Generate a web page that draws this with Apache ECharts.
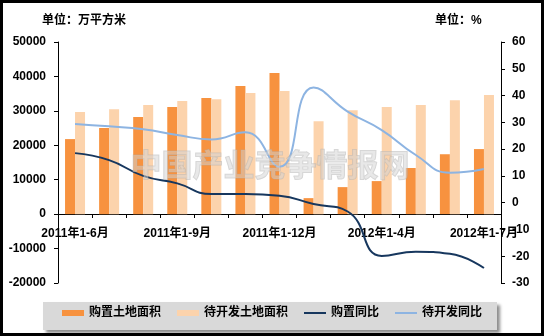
<!DOCTYPE html>
<html><head><meta charset="utf-8">
<script src="https://cdn.jsdelivr.net/npm/echarts@6/dist/echarts.min.js"></script>
<style>html,body{margin:0;padding:0;background:#fff}#c{width:544px;height:336px}</style>
</head><body><div id="c"></div>
<script>
var categories = ['2011年1-6月','2011年1-7月','2011年1-8月','2011年1-9月','2011年1-10月','2011年1-11月','2011年1-12月','2012年1-2月','2012年1-3月','2012年1-4月','2012年1-5月','2012年1-6月','2012年1-7月'];
var purchaseArea = [21800, 25000, 28200, 31100, 33700, 37200, 41000, 4650, 7850, 9600, 13400, 17400, 18900];
var pendingArea = [29650, 30500, 31700, 32850, 33400, 35200, 35750, 27000, 30200, 31100, 31700, 33100, 34600];
var purchaseYoY = [18.5, 15.9, 10.0, 7.2, 3.2, 3.2, 2.6, -0.5, -3.3, -19.9, -18.3, -19.1, -24.4];
var pendingYoY = [29.4, 28.5, 27.4, 25.3, 23.6, 26.3, 13.4, 43.0, 34.0, 27.1, 17.8, 11.2, 12.6];
var seriesNames = ['购置土地面积','待开发土地面积','购置同比','待开发同比'];

var FONT = '"Liberation Sans", Arial, "Noto Sans CJK SC", sans-serif';
var LINE_ICON = 'path://M0,0h0.01v0.01h-0.01zM0,2.1h22v1.8h-22zM21.99,5.99h0.01v0.01h-0.01z';
var chart = echarts.init(document.getElementById('c'), null, {renderer: 'canvas'});
var lbl = {color: '#000', fontWeight: 'bold', fontSize: 12, fontFamily: FONT};
chart.setOption({
  animation: false,
  backgroundColor: '#fff',
  grid: {left: 58, right: 43, top: 42, bottom: 53, containLabel: false},
  graphic: [
    {type: 'rect', z: 0, shape: {x: 43, y: 302, width: 454, height: 28},
     style: {fill: '#D9D9D9', shadowBlur: 3, shadowOffsetX: 3, shadowOffsetY: 3, shadowColor: 'rgba(0,0,0,0.45)'}},
    {type: 'text', z: 100, left: 42, top: 15, style: {text: '单位：万平方米', fill: '#000', font: 'bold 12px ' + FONT}},
    {type: 'text', z: 100, left: 435, top: 15, style: {text: '单位：%', fill: '#000', font: 'bold 12px ' + FONT}},
    {type: 'text', z: 50, left: 130, top: 148, style: {text: '中国产业竞争情报网', fill: 'rgba(210,210,210,0.5)', stroke: 'rgba(170,170,170,0.45)', lineWidth: 1, font: 'bold 31px "Noto Sans CJK SC", sans-serif'}},
    {type: 'rect', z: 200, shape: {x: 1.5, y: 1.5, width: 541, height: 333}, style: {fill: 'none', stroke: '#000', lineWidth: 3}}
  ],
  legend: {
    data: [
      {name: seriesNames[0], icon: 'rect'},
      {name: seriesNames[1], icon: 'rect'},
      {name: seriesNames[2], icon: LINE_ICON},
      {name: seriesNames[3], icon: LINE_ICON}
    ],
    left: 62, top: 307, padding: 0, itemWidth: 22, itemHeight: 6, itemGap: 16,
    textStyle: {color: '#000', fontWeight: 'bold', fontSize: 12, fontFamily: FONT}
  },
  xAxis: {
    type: 'category', data: categories,
    offset: -69,
    axisLine: {onZero: false, lineStyle: {color: '#000', width: 1}},
    axisTick: {show: true, interval: 0, length: 4, lineStyle: {color: '#000'}},
    axisLabel: Object.assign({interval: 2, margin: 14}, lbl),
    splitLine: {show: false}
  },
  yAxis: [
    {type: 'value', min: -20000, max: 50000, interval: 10000,
     axisLine: {show: true, lineStyle: {color: '#000'}},
     axisTick: {show: true, length: 4, lineStyle: {color: '#000'}},
     axisLabel: Object.assign({margin: 12, formatter: function (v) { return String(v); }}, lbl), splitLine: {show: false}},
    {type: 'value', min: -30, max: 60, interval: 10, position: 'right',
     axisLine: {show: true, onZero: false, lineStyle: {color: '#000'}},
     axisTick: {show: true, length: 4, lineStyle: {color: '#000'}},
     axisLabel: Object.assign({margin: 11}, lbl), splitLine: {show: false}}
  ],
  series: [
    {name: seriesNames[0], type: 'bar', data: purchaseArea, barWidth: 10, barGap: '0%', itemStyle: {color: '#F7923F'}},
    {name: seriesNames[1], type: 'bar', data: pendingArea, barWidth: 10, barGap: '0%', itemStyle: {color: '#FCD3AC'}},
    {name: seriesNames[2], type: 'line', yAxisIndex: 1, data: purchaseYoY, smooth: true, symbol: 'none', lineStyle: {color: '#17375E', width: 2}, itemStyle: {color: '#17375E'}, z: 10},
    {name: seriesNames[3], type: 'line', yAxisIndex: 1, data: pendingYoY, smooth: true, symbol: 'none', lineStyle: {color: '#8DB4E2', width: 2}, itemStyle: {color: '#8DB4E2'}, z: 10}
  ]
});
</script></body></html>
